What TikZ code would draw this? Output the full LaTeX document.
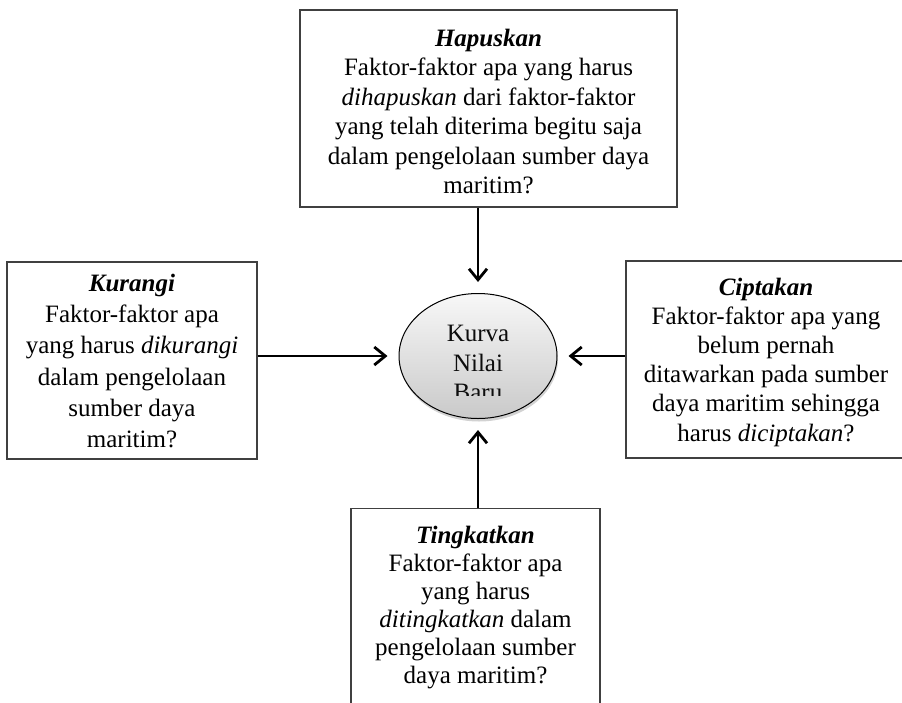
\documentclass[tikz,border=0pt]{standalone}
\usepackage{fontspec}
\setmainfont{Liberation Serif}
\usetikzlibrary{arrows.meta,shapes.geometric,shadows}
\begin{document}
\begin{tikzpicture}[x=1pt,y=-1pt,
  txt/.style={font=\fontsize{25}{#1}\selectfont, align=center, inner sep=0pt},
  txt/.default=29.4,
  boxnode/.style={draw=black!75, line width=1.3pt, fill=white, inner sep=0pt},
  arr/.style={line width=2.8pt, -{Straight Barb[length=11pt,width=18pt]}, shorten >=11pt}]
\useasboundingbox (0,0) rectangle (902,702);
\clip (0,0) rectangle (902,702);
\fill[white] (0,0) rectangle (902,702);
% boxes
\node[boxnode, minimum width=377pt, minimum height=197pt] (top) at (488.5,108.5) {};
\node[txt=29.4] (toptxt) at (488.5,111.5)
  {\textbf{\textit{Hapuskan}}\\Faktor-faktor apa yang harus\\\textit{dihapuskan} dari faktor-faktor\\yang telah diterima begitu saja\\dalam pengelolaan sumber daya\\maritim?};
\node[boxnode, minimum width=250pt, minimum height=197pt] (left) at (132,360.5) {};
\node[txt=31.1] (lefttxt) at (132,361)
  {\textbf{\textit{Kurangi}}\\Faktor-faktor apa\\yang harus \textit{dikurangi}\\dalam pengelolaan\\sumber daya\\maritim?};
\node[boxnode, minimum width=280pt, minimum height=197pt] (right) at (766,359.5) {};
\node[txt=29.2] (righttxt) at (766,362)
  {\textbf{\textit{Ciptakan}}\\Faktor-faktor apa yang\\belum pernah\\ditawarkan pada sumber\\daya maritim sehingga\\harus \textit{diciptakan}?};
\node[boxnode, minimum width=249pt, minimum height=260pt, anchor=north] (bottom) at (475.5,508) {};
\node[txt=28] (bottomtxt) at (475.5,608)
  {\textbf{\textit{Tingkatkan}}\\Faktor-faktor apa\\yang harus\\\textit{ditingkatkan} dalam\\pengelolaan sumber\\daya maritim?};
% ellipse
\node[ellipse, draw=black, line width=1pt, minimum width=158pt, minimum height=125pt,
  top color=gray!6, bottom color=gray!42, drop shadow={opacity=0.35, shadow xshift=1pt, shadow yshift=-3pt}] (ell) at (478,356) {};
\begin{scope}
  \clip (420,312) rectangle (540,395);
  \node[txt=29.5, text=black!95] (elltxt) at (478,363) {Kurva\\Nilai\\Baru};
\end{scope}
% arrows
\draw[arr] (ell.north |- top.south) -- (ell.north);
\draw[arr] (ell.west -| left.east) -- (ell.west);
\draw[arr] (ell.east -| right.west) -- (ell.east);
\draw[arr] (ell.south |- bottom.north) -- (ell.south);
\end{tikzpicture}
\end{document}
